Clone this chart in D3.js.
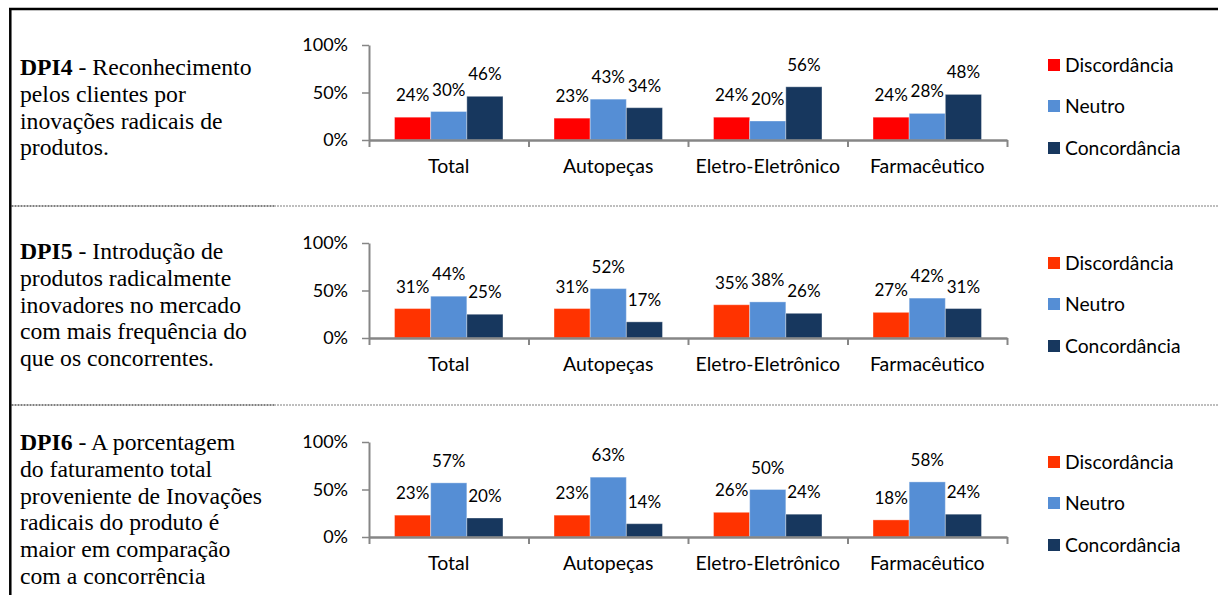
<!DOCTYPE html>
<html>
<head>
<meta charset="utf-8">
<script src="https://cdn.jsdelivr.net/npm/d3@7"></script>
<style>
  html, body { margin: 0; padding: 0; background: #fff; }
  svg { display: block; }
  .axis path, .axis line { stroke: #868686; }
  .axis text { fill: #000; }
</style>
</head>
<body>
<svg id="chart" width="1218" height="595"></svg>
<script>
// Categories, series and tick labels
const categories = ["Total", "Autopeças", "Eletro-Eletrônico", "Farmacêutico"];
const seriesNames = ["Discordância", "Neutro", "Concordância"];
const yTickValues = [0, 50, 100];
const yTickLabels = ["0%", "50%", "100%"];

// DPI4 - percentages per category
const dpi4Discordancia = [24, 23, 24, 24];
const dpi4Neutro       = [30, 43, 20, 28];
const dpi4Concordancia = [46, 34, 56, 48];

// DPI5
const dpi5Discordancia = [31, 31, 35, 27];
const dpi5Neutro       = [44, 52, 38, 42];
const dpi5Concordancia = [25, 17, 26, 31];

// DPI6
const dpi6Discordancia = [23, 23, 26, 18];
const dpi6Neutro       = [57, 63, 50, 58];
const dpi6Concordancia = [20, 14, 24, 24];

// Statement texts (bold code + description lines)
const dpi4Code = "DPI4";
const dpi4Lines = [" - Reconhecimento", "pelos clientes por", "inovações radicais de", "produtos."];
const dpi5Code = "DPI5";
const dpi5Lines = [" - Introdução de", "produtos radicalmente", "inovadores no mercado", "com mais frequência do", "que os concorrentes."];
const dpi6Code = "DPI6";
const dpi6Lines = [" - A porcentagem", "do faturamento total", "proveniente de Inovações", "radicais do produto é", "maior em comparação", "com a concorrência"];

const panels = [
  { code: dpi4Code, lines: dpi4Lines, values: [dpi4Discordancia, dpi4Neutro, dpi4Concordancia],
    colors: ["#FF0000", "#558ED5", "#17375E"], baseY: 140, textY: 75 },
  { code: dpi5Code, lines: dpi5Lines, values: [dpi5Discordancia, dpi5Neutro, dpi5Concordancia],
    colors: ["#FF3300", "#558ED5", "#17375E"], baseY: 338, textY: 259 },
  { code: dpi6Code, lines: dpi6Lines, values: [dpi6Discordancia, dpi6Neutro, dpi6Concordancia],
    colors: ["#FF3300", "#558ED5", "#17375E"], baseY: 537, textY: 450 }
];

const svg = d3.select("#chart");
const W = 1218, H = 595;
svg.append("rect").attr("width", W).attr("height", H).attr("fill", "#fff");

const sansFont = "Lato, 'Open Sans', sans-serif";
const serifFont = "'Liberation Serif', 'Times New Roman', serif";

// Plot geometry
const plotLeft = 369, plotRight = 1007, plotHeight = 95;
const lineStep = 26.8;

// Table frame: thick top and left rules
svg.append("line").attr("x1", 9).attr("x2", W).attr("y1", 9).attr("y2", 9)
  .attr("stroke", "#000").attr("stroke-width", 2.5);
svg.append("line").attr("x1", 10.3).attr("x2", 10.3).attr("y1", 8).attr("y2", H)
  .attr("stroke", "#000").attr("stroke-width", 2.5);

// Dotted row separators
[206, 405].forEach(y => {
  svg.append("line").attr("x1", 11.5).attr("x2", 274).attr("y1", y).attr("y2", y)
    .attr("stroke", "#000").attr("stroke-width", 1.2).attr("stroke-dasharray", "2,1");
  svg.append("line").attr("x1", 274).attr("x2", W).attr("y1", y).attr("y2", y)
    .attr("stroke", "#7f7f7f").attr("stroke-width", 1.2).attr("stroke-dasharray", "2,1");
});

const x0 = d3.scaleBand().domain(categories).range([plotLeft, plotRight]).paddingInner(0).paddingOuter(0);
const groupGap = 0.32;
const x1 = d3.scaleBand().domain(seriesNames)
  .range([x0.bandwidth() * groupGap / 2, x0.bandwidth() * (1 - groupGap / 2)]);
const xEdges = d3.scaleLinear().domain([0, categories.length]).range([plotLeft, plotRight]);

panels.forEach(p => {
  const y = d3.scaleLinear().domain([0, 100]).range([p.baseY, p.baseY - plotHeight]);
  const g = svg.append("g");

  // Statement text
  const t = g.append("text").attr("font-family", serifFont).attr("font-size", 23.7).attr("fill", "#000");
  p.lines.forEach((ln, i) => {
    const ts = t.append("tspan").attr("x", 20).attr("y", p.textY + i * lineStep);
    if (i === 0) {
      ts.append("tspan").attr("font-weight", "bold").text(p.code);
      t.append("tspan").text(ln);
    } else {
      ts.text(ln);
    }
  });

  // Bars
  const rows = categories.map((c, ci) => ({ c, vals: seriesNames.map((s, si) => ({ s, si, v: p.values[si][ci] })) }));
  const grp = g.selectAll("g.grp").data(rows).join("g").attr("class", "grp")
    .attr("transform", d => `translate(${x0(d.c)},0)`);
  grp.selectAll("rect").data(d => d.vals).join("rect")
    .attr("x", d => x1(d.s))
    .attr("width", x1.bandwidth())
    .attr("y", d => y(d.v))
    .attr("height", d => y(0) - y(d.v))
    .attr("fill", d => p.colors[d.si])
    .attr("stroke", "rgba(255,255,255,0.35)")
    .attr("stroke-width", 1);
  grp.selectAll("text").data(d => d.vals).join("text")
    .attr("x", d => x1(d.s) + x1.bandwidth() / 2)
    .attr("y", d => y(d.v) - 16)
    .attr("text-anchor", "middle")
    .attr("font-family", sansFont).attr("font-size", 17).attr("fill", "#000")
    .text(d => d.v + "%");

  // Y axis
  const yAxis = g.append("g").attr("class", "axis").attr("transform", `translate(${plotLeft},0)`)
    .call(d3.axisLeft(y).tickValues(yTickValues).tickFormat((d, i) => yTickLabels[i])
      .tickSizeInner(7).tickSizeOuter(0).tickPadding(14));
  yAxis.selectAll("path").attr("stroke-width", 2);
  yAxis.selectAll("line").attr("stroke-width", 1.5);
  yAxis.selectAll("text").attr("font-family", sansFont).attr("font-size", 18);

  // X axis: boundary ticks and category labels
  const xAxisLine = g.append("g").attr("class", "axis").attr("transform", `translate(0,${p.baseY})`)
    .call(d3.axisBottom(xEdges).tickValues(d3.range(categories.length + 1)).tickFormat("")
      .tickSizeInner(7).tickSizeOuter(0));
  xAxisLine.selectAll("path").attr("stroke-width", 2.5);
  xAxisLine.selectAll("line").attr("stroke-width", 2);

  const xLabels = g.append("g").attr("transform", `translate(0,${p.baseY})`)
    .call(d3.axisBottom(x0).tickSize(0).tickPadding(19));
  xLabels.select(".domain").remove();
  xLabels.selectAll("text").attr("font-family", sansFont).attr("font-size", 19.5).attr("fill", "#000");

  // Legend
  const legOffsets = [-75, -34, 8];
  const leg = g.selectAll("g.leg").data(seriesNames).join("g").attr("class", "leg")
    .attr("transform", (d, i) => `translate(1048,${p.baseY + legOffsets[i]})`);
  leg.append("rect").attr("x", 0).attr("y", -6).attr("width", 12).attr("height", 12)
    .attr("fill", (d, i) => p.colors[i]);
  leg.append("text").attr("x", 17).attr("y", 6.5).attr("font-family", sansFont).attr("font-size", 19.3)
    .attr("fill", "#000").text(d => d);
});
</script>
</body>
</html>
